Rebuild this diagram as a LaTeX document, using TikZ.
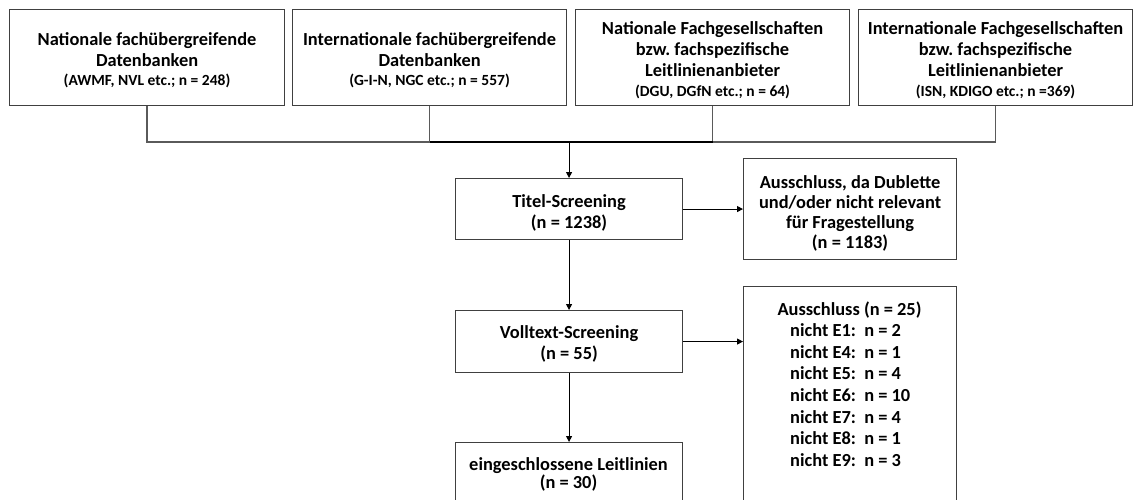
\documentclass[tikz,border=0pt]{standalone}
\usepackage{fontspec}
\setmainfont{Carlito}
\usetikzlibrary{arrows.meta,calc}
\definecolor{boxgray}{HTML}{404040}
\definecolor{linegray}{HTML}{5A5A5A}
\newcommand\mainsz{\fontsize{18.4}{21}\selectfont}
\newcommand\smallsz{\fontsize{15.5}{20}\selectfont}
\frenchspacing
\begin{document}
\begin{tikzpicture}[x=1pt,y=-1pt,
  box/.style={draw=boxgray, line width=1.1pt, fill=white, inner sep=0pt, anchor=north west},
  txt/.style={inner sep=0pt, align=center, font=\bfseries\mainsz},
  conn/.style={draw=linegray, line width=1.3pt},
  connb/.style={draw=black, line width=2pt},
  arr/.style={draw=black, line width=1pt, -{Triangle[length=6pt,width=6pt]}}]
\useasboundingbox (0,0) rectangle (1139,499);
% top boxes
\node[box, minimum width=275, minimum height=96] (t1) at (9,9) {};
\node[box, minimum width=274, minimum height=96] (t2) at (292,9) {};
\node[box, minimum width=274, minimum height=96] (t3) at (575,9) {};
\node[box, minimum width=274, minimum height=96] (t4) at (858,9) {};
\node[txt] (t1t) at ([yshift=-2.5pt]t1.center)
  {Nationale fachübergreifende\\ Datenbanken\\[-1.5pt] {\smallsz (AWMF, NVL etc.; n = 248)}};
\node[txt] (t2t) at ([yshift=-2.5pt]t2.center)
  {Internationale fachübergreifende\\ Datenbanken\\[-1.5pt] {\smallsz (G-I-N, NGC etc.; n = 557)}};
\node[txt] (t3t) at ([yshift=-2.5pt]t3.center)
  {Nationale Fachgesellschaften\\ bzw. fachspezifische\\ Leitlinienanbieter\\[-1.5pt] {\smallsz (DGU, DGfN etc.; n = 64)}};
\node[txt] (t4t) at ([yshift=-2.5pt]t4.center)
  {Internationale Fachgesellschaften\\ bzw. fachspezifische\\ Leitlinienanbieter\\[-1.5pt] {\smallsz (ISN, KDIGO etc.; n =369)}};
% flow boxes
\node[box, minimum width=227, minimum height=61] (ts) at (455,178) {};
\node[txt] (tst) at ([yshift=-3.5pt]ts.center) {Titel-Screening\\ (n = 1238)};
\node[box, minimum width=213, minimum height=101] (dub) at (743,158) {};
\node[txt] (dubt) at ([yshift=-4pt]dub.center)
  {Ausschluss, da Dublette\\[-1pt] und/oder nicht relevant\\[-1pt] für Fragestellung\\[-1pt] (n = 1183)};
\node[box, minimum width=227, minimum height=62] (vt) at (455,310) {};
\node[txt] (vtt) at ([yshift=-2.5pt]vt.center) {Volltext-Screening\\ (n = 55)};
\node[box, minimum width=213, minimum height=230] (ex) at (743,286) {};
\node[txt] (exh) at (849.5,310) {Ausschluss (n = 25)};
\node[txt, anchor=north west, align=left, font=\bfseries\fontsize{18.4}{21.6}\selectfont] (exl) at (790,323.5)
  {nicht E1:\ \ n = 2\\ nicht E4:\ \ n = 1\\ nicht E5:\ \ n = 4\\ nicht E6:\ \ n = 10\\ nicht E7:\ \ n = 4\\ nicht E8:\ \ n = 1\\ nicht E9:\ \ n = 3};
\node[box, minimum width=227, minimum height=80] (ein) at (455,442) {};
\node[txt] (eint) at (568.5,474.5)
  {eingeschlossene Leitlinien\\[-3pt] (n = 30)};
% connectors
\coordinate (j) at ($(ts.north)+(0,-36)$);
\draw[conn] (t1.south) |- (t2.south |- j);
\draw[conn] (t4.south) |- (t3.south |- j);
\draw[conn] (t2.south) -- (t2.south |- j);
\draw[conn] (t3.south) -- (t3.south |- j);
\draw[connb] (t2.south |- j) -- (t3.south |- j);
\draw[arr] (j) -- (ts.north);
\draw[arr] (ts.east) -- (ts.east -| dub.west);
\draw[arr] (ts.south) -- (vt.north);
\draw[arr] (vt.east) -- (vt.east -| ex.west);
\draw[arr] (vt.south) -- (ein.north);
\end{tikzpicture}
\end{document}
